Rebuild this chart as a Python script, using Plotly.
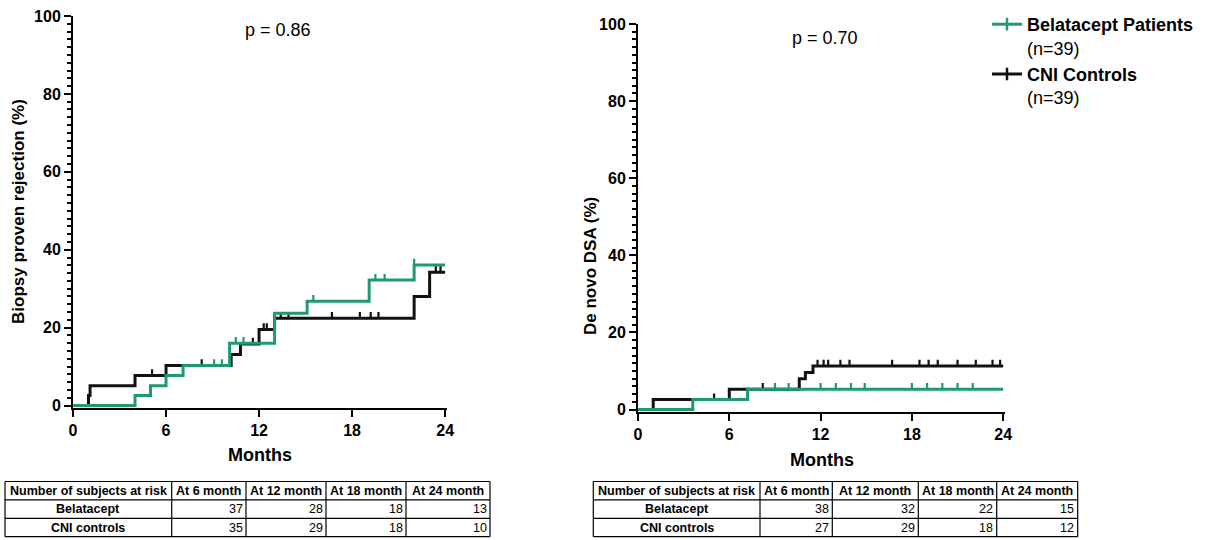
import numpy as np
import plotly.graph_objects as go

# ---------------- data ----------------
# Left panel: Biopsy proven rejection (cumulative incidence, %)
bela_bpar_t = [0, 4.0, 5.0, 6.0, 7.1, 10.1, 13.0, 15.1, 19.1, 22.0, 24.0]
bela_bpar_v = [0, 2.6, 5.1, 7.7, 10.3, 16.0, 23.7, 26.8, 32.2, 36.1, 36.1]
bela_bpar_cens = [9.1, 9.6, 10.5, 11.0, 15.5, 19.5, 20.1, 22.0]

cni_bpar_t = [0, 1.0, 1.1, 4.0, 6.0, 10.2, 10.8, 12.0, 13.0, 22.0, 23.0, 24.0]
cni_bpar_v = [0, 2.6, 5.1, 7.7, 10.3, 13.1, 15.8, 19.5, 22.4, 28.0, 34.2, 34.2]
cni_bpar_cens = [5.1, 8.3, 11.6, 12.3, 12.5, 13.4, 13.9, 16.7, 18.5, 19.2, 19.7, 23.4, 23.7]

# Right panel: De novo DSA (%)
bela_dsa_t = [0, 3.6, 7.2, 24.0]
bela_dsa_v = [0, 2.6, 5.3, 5.3]
bela_dsa_cens = [9.0, 9.9, 12.0, 13.0, 14.0, 14.9, 18.0, 19.0, 20.0, 21.0, 22.0]

cni_dsa_t = [0, 1.0, 6.0, 10.6, 11.0, 11.5, 24.0]
cni_dsa_v = [0, 2.6, 5.3, 8.0, 9.6, 11.3, 11.3]
cni_dsa_cens = [5.0, 8.2, 11.8, 12.2, 12.5, 13.3, 13.9, 16.7, 18.5, 19.1, 19.7, 21.0, 22.2, 23.3, 23.8]

x_ticks = [0, 6, 12, 18, 24]
y_ticks = [0, 20, 40, 60, 80, 100]

table_header = ["Number of subjects at risk", "At 6 month", "At 12 month", "At 18 month", "At 24 month"]
row_labels = ["Belatacept", "CNI controls"]
bpar_at_risk_bela = [37, 28, 18, 13]
bpar_at_risk_cni = [35, 29, 18, 10]
dsa_at_risk_bela = [38, 32, 22, 15]
dsa_at_risk_cni = [27, 29, 18, 12]

series_names = ["Belatacept Patients", "CNI Controls"]
n_patients = [39, 39]
p_values = ["0.86", "0.70"]

# ---------------- style ----------------
GREEN = "#1f9a6b"
BLACK = "#111111"
FONT = "Liberation Sans"
W, H = 1221, 540


def px_x(p):
    return p / W


def px_y(p):
    return 1 - p / H


def step_value(ts, vs, t):
    ts = np.asarray(ts)
    idx = np.searchsorted(ts, t, side="right") - 1
    return np.asarray(vs)[idx]


fig = go.Figure()


def add_curve(ts, vs, cens, color, xa, ya):
    fig.add_trace(go.Scatter(
        x=ts, y=vs, mode="lines", line=dict(color=color, width=3, shape="hv"),
        xaxis=xa, yaxis=ya, showlegend=False, hoverinfo="skip"))
    cy = [step_value(ts, vs, c) for c in cens]
    fig.add_trace(go.Scatter(
        x=cens, y=cy, mode="markers", marker=dict(size=1, color=color, opacity=0),
        error_y=dict(type="data", symmetric=False, array=[1.6] * len(cens),
                     arrayminus=[0] * len(cens), color=color, thickness=2.2, width=0),
        xaxis=xa, yaxis=ya, showlegend=False, hoverinfo="skip"))


add_curve(cni_bpar_t, cni_bpar_v, cni_bpar_cens, BLACK, "x", "y")
add_curve(bela_bpar_t, bela_bpar_v, bela_bpar_cens, GREEN, "x", "y")
add_curve(cni_dsa_t, cni_dsa_v, cni_dsa_cens, BLACK, "x2", "y2")
add_curve(bela_dsa_t, bela_dsa_v, bela_dsa_cens, GREEN, "x2", "y2")

# legend entries
for name, n, color in zip(series_names, n_patients, [GREEN, BLACK]):
    fig.add_trace(go.Scatter(
        x=[None], y=[None], mode="lines+markers",
        line=dict(color=color, width=3),
        marker=dict(symbol="line-ns", size=9, line=dict(color=color, width=2.5)),
        name=f"<b>{name}</b><br>(n={n})", xaxis="x2", yaxis="y2"))


# at-risk tables (grid drawn as layout shapes, text as annotations)
def add_table(bela, cni, x0, widths, row_top=481.5, row_h=18.4):
    edges = np.concatenate([[x0], x0 + np.cumsum(widths)])
    n_rows = 3
    row_edges = [row_top + i * row_h for i in range(n_rows + 1)]
    line = dict(color="black", width=1.2)
    for ex in edges:
        fig.add_shape(type="line", xref="paper", yref="paper",
                      x0=px_x(ex), x1=px_x(ex), y0=px_y(row_edges[0]), y1=px_y(row_edges[-1]),
                      line=line)
    for ey in row_edges:
        fig.add_shape(type="line", xref="paper", yref="paper",
                      x0=px_x(edges[0]), x1=px_x(edges[-1]), y0=px_y(ey), y1=px_y(ey),
                      line=line)
    rows = [table_header,
            [row_labels[0]] + [str(v) for v in bela],
            [row_labels[1]] + [str(v) for v in cni]]
    for ri, row in enumerate(rows):
        yc = (row_edges[ri] + row_edges[ri + 1]) / 2
        for ci, txt in enumerate(row):
            bold = ri == 0 or ci == 0
            if ri > 0 and ci > 0:
                xpos, anchor = edges[ci + 1] - 1.5, "right"
            else:
                xpos, anchor = (edges[ci] + edges[ci + 1]) / 2, "center"
            fig.add_annotation(
                text=txt, x=px_x(xpos), y=px_y(yc), xref="paper", yref="paper",
                xanchor=anchor, yanchor="middle", showarrow=False,
                font=dict(family=FONT, size=12.5, color="black",
                          weight="bold" if bold else "normal"))


add_table(bpar_at_risk_bela, bpar_at_risk_cni, 5, [166.7, 74.3, 80, 80, 84])
add_table(dsa_at_risk_bela, dsa_at_risk_cni, 593.3, [166.7, 72.3, 86, 78.4, 81])

axis_common = dict(showgrid=False, zeroline=False, showline=True, linecolor="black",
                   linewidth=2, ticks="outside", tickcolor="black", tickwidth=2,
                   ticklen=7, layer="below traces", automargin=False,
                   tickfont=dict(family=FONT, size=16, color="black", weight="bold"))

xax = dict(axis_common, range=[0, 24.12], tickvals=x_ticks)
yax = dict(axis_common, range=[-0.5, 100], tickvals=y_ticks,
           minor=dict(dtick=2, ticklen=4, tickwidth=1.5, tickcolor="black", ticks="outside"))

fig.update_layout(
    width=W, height=H, margin=dict(l=0, r=0, t=0, b=0, autoexpand=False),
    paper_bgcolor="white", plot_bgcolor="white",
    xaxis=dict(xax, domain=[px_x(73), px_x(447)], anchor="y"),
    yaxis=dict(yax, domain=[px_y(407.5), px_y(16)], anchor="x"),
    xaxis2=dict(xax, domain=[px_x(638), px_x(1005)], anchor="y2"),
    yaxis2=dict(yax, domain=[px_y(411.5), px_y(24)], anchor="x2"),
    showlegend=True,
    legend=dict(x=px_x(987), y=px_y(6), xanchor="left", yanchor="top",
                valign="top", itemwidth=30, tracegroupgap=6,
                font=dict(family=FONT, size=18, color="black"),
                bgcolor="rgba(0,0,0,0)"),
    font=dict(family=FONT, color="black"),
)

ann = [
    dict(text=f"p = {p_values[0]}", x=px_x(278), y=px_y(30), size=18, angle=0, bold=False),
    dict(text=f"p = {p_values[1]}", x=px_x(825), y=px_y(38), size=18, angle=0, bold=False),
    dict(text="Months", x=px_x(260), y=px_y(455), size=18, angle=0, bold=True),
    dict(text="Months", x=px_x(822), y=px_y(460), size=18, angle=0, bold=True),
    dict(text="Biopsy proven rejection (%)", x=px_x(18), y=px_y(212), size=17, angle=-90, bold=True),
    dict(text="De novo DSA (%)", x=px_x(590), y=px_y(266), size=17, angle=-90, bold=True),
]
for a in ann:
    fig.add_annotation(
        text=a["text"], x=a["x"], y=a["y"], xref="paper", yref="paper",
        xanchor="center", yanchor="middle", showarrow=False, textangle=a["angle"],
        font=dict(family=FONT, size=a["size"], color="black",
                  weight="bold" if a["bold"] else "normal"))

fig.write_html("out.html", config={"displayModeBar": False},
               post_script="document.body.style.margin='0';document.body.style.overflow='hidden';")
